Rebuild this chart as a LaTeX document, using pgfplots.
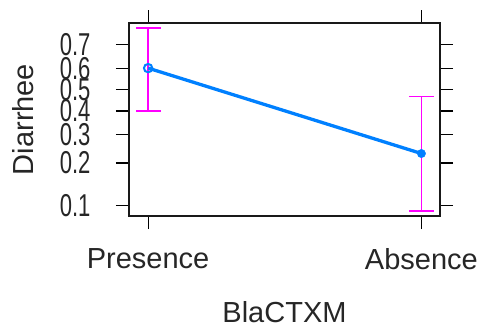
\documentclass[border=0pt]{standalone}
\usepackage{fontspec}
\setmainfont{Liberation Sans}
\usepackage{graphicx}
\usepackage{pgfplots}
\pgfplotsset{compat=1.18}
\definecolor{latblue}{HTML}{0080FF}
\definecolor{latmag}{HTML}{FF00FF}
\newcommand{\yl}[1]{\scalebox{0.76}[1.09]{#1}}
\begin{document}
\begin{tikzpicture}
\useasboundingbox (-129pt,-109pt) rectangle (351pt,216pt);
\begin{axis}[
  scale only axis, width=311pt, height=193pt,
  at={(0pt,0pt)}, anchor=south west,
  xmin=0.93, xmax=2.068,
  ymin=0.0838, ymax=0.7787,
  y coord trafo/.code={\pgfmathparse{ln(#1/(1-#1))}},
  y coord inv trafo/.code={\pgfmathparse{1/(1+exp(-#1))}},
  ytick={0.1,0.2,0.3,0.4,0.5,0.6,0.7},
  yticklabels={\yl{0.1},\yl{0.2},\yl{0.3},\yl{0.4},\yl{0.5},\yl{0.6},\yl{0.7}},
  xtick={1,2}, xticklabels={Presence,Absence},
  tick align=outside, xtick pos=both, ytick pos=both,
  xticklabel pos=lower, yticklabel pos=left,
  major tick length=13pt,
  every tick/.style={black, line width=1.2pt},
  axis line style={draw=black!90, line width=1.8pt},
  tick label style={font=\fontsize{29}{34}\selectfont, text=black!85},
  yticklabel style={xshift=-22pt},
  xticklabel style={yshift=-16pt},
  xlabel={BlaCTXM}, ylabel={Diarrhee},
  every axis x label/.style={at={(axis description cs:0.5,-0.498)}, anchor=center, inner sep=0pt, font=\fontsize{29}{34}\selectfont, text=black!85},
  every axis y label/.style={at={(axis description cs:-0.3414,0.5)}, rotate=90, anchor=center, inner sep=0pt, font=\fontsize{29}{34}\selectfont, text=black!85},
  clip=false,
]
\addplot[latmag, line width=1.8pt, mark=-, mark size=12.5pt, mark options={solid, line width=1.8pt}] coordinates {(1,0.4) (1,0.762)};
\addplot[latmag, line width=1.8pt, mark=-, mark size=12.5pt, mark options={solid, line width=1.8pt}] coordinates {(2,0.092) (2,0.467)};
\addplot[latblue, line width=3.3pt, no marks] coordinates {(1,0.6) (2,0.23)};
\addplot[latblue, only marks, mark=o, mark size=4.2pt, mark options={fill=white, line width=2pt}] coordinates {(1,0.6)};
\addplot[latblue, only marks, mark=*, mark size=4.2pt] coordinates {(2,0.23)};
\end{axis}
\end{tikzpicture}
\end{document}
